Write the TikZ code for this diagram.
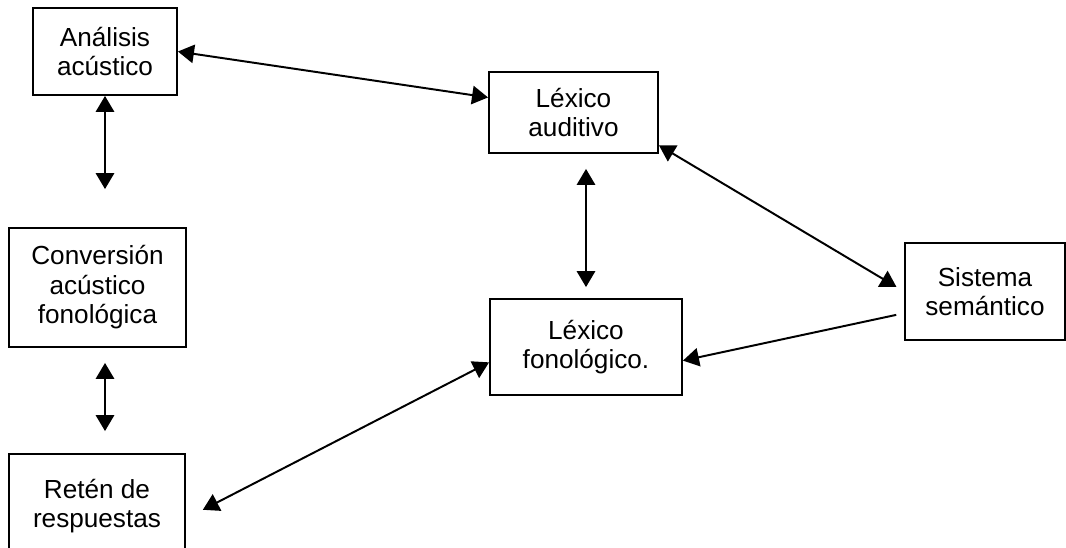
\documentclass[tikz,border=0pt]{standalone}
\usepackage{fontspec}
\setmainfont{Liberation Sans}
\usetikzlibrary{arrows.meta}
\begin{document}
\begin{tikzpicture}[>={Triangle[length=4mm,width=4.6mm]}, x=0.025cm, y=-0.025cm,
  caja/.style={draw, line width=1.3pt, align=center, inner sep=0pt,
    font=\fontsize{18.6}{21}\selectfont},
  flecha/.style={line width=1.4pt}]
\useasboundingbox (0,0) rectangle (1066,547);
% Columna izquierda
\node[caja, minimum width=3.6cm, minimum height=2.175cm] (ana) at (105,51.5) {Análisis\\acústico};
\node[caja, minimum width=4.425cm, minimum height=2.975cm] (conv) at (97.5,287.5) {Conversión\\acústico\\fonológica};
\node[caja, minimum width=4.4cm, minimum height=2.6cm] (ret) at (97,506) {Retén de\\respuestas};
% Léxicos
\node[caja, minimum width=4.225cm, minimum height=2.025cm] (aud) at (573.5,112.5) {Léxico\\auditivo};
\node[caja, minimum width=4.8cm, minimum height=2.4cm] (fon) at (586,347) {Léxico\\fonológico.};
% Sistema semántico
\node[caja, minimum width=4cm, minimum height=2.425cm] (sem) at (985,291.5) {Sistema\\semántico};
% Conexiones
\draw[flecha, <->] (ana.east) -- (aud.170);
\draw[flecha, <->, shorten >=0.95cm] (ana.south) -- (ana.south |- conv.north);
\draw[flecha, <->, shorten <=0.375cm, shorten >=0.55cm] (ana.south |- conv.south) -- (ana.south |- ret.north);
\draw[flecha, <->, shorten <=0.375cm, shorten >=0.275cm] (fon.north |- aud.south) -- (fon.north);
\draw[flecha, <->, shorten >=0.22cm] (aud.-21) -- (sem.west);
\draw[flecha, ->, shorten <=0.2cm] (sem.195) -- (fon.-8);
\draw[flecha, <->, shorten >=0.475cm] (fon.189) -- (ret.-8);
\end{tikzpicture}
\end{document}
